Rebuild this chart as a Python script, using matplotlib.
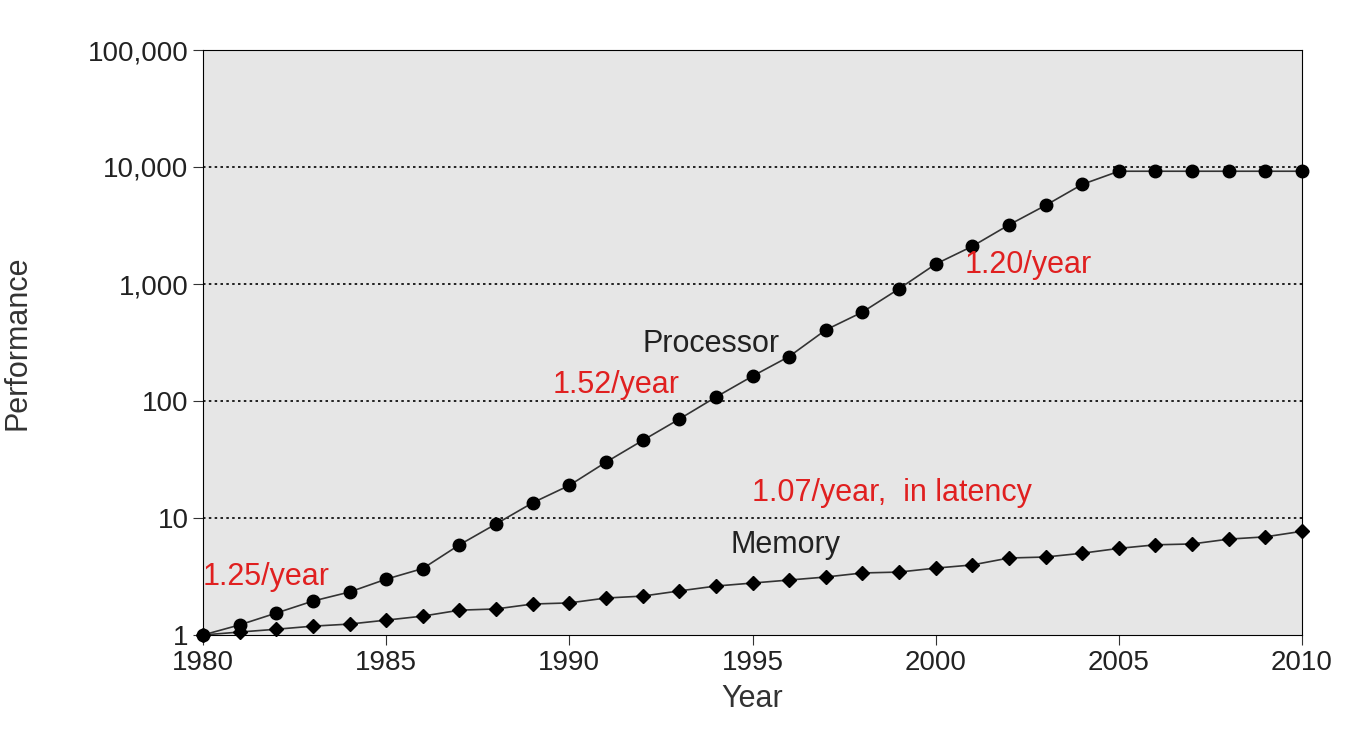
import matplotlib
matplotlib.use("Agg")
import matplotlib.pyplot as plt
from matplotlib.ticker import FixedLocator, NullLocator

years = list(range(1980, 2011))
processor = [1, 1.22, 1.54, 1.95, 2.33, 3.0, 3.7, 5.9, 8.9, 13.5, 19, 30, 46, 70,
             108, 163, 240, 405, 575, 910, 1480, 2100, 3200, 4700, 7100, 9200,
             9200, 9200, 9200, 9200, 9200]
memory = [1, 1.06, 1.12, 1.19, 1.24, 1.34, 1.45, 1.63, 1.67, 1.84, 1.88, 2.07, 2.15,
          2.38, 2.62, 2.78, 2.95, 3.13, 3.39, 3.45, 3.73, 3.97, 4.55, 4.64, 5.0,
          5.5, 5.9, 6.0, 6.6, 6.9, 7.7]
yticks = [1, 10, 100, 1000, 10000, 100000]
ytick_labels = ["1", "10", "100", "1,000", "10,000", "100,000"]

plt.rcParams["font.family"] = ["Liberation Sans", "DejaVu Sans"]
fig = plt.figure(figsize=(13.62, 7.54), dpi=100)
ax = fig.add_axes([203 / 1362, 1 - 635 / 754, 1099 / 1362, 585 / 754])
ax.set_facecolor("#e6e6e6")

for v in yticks[1:-1]:
    ax.axhline(v, color="black", linestyle=(0, (1.5, 2)), linewidth=1.2, zorder=1)

ax.plot(years, processor, color="#333333", linewidth=1.2, marker="o",
        markersize=9, markerfacecolor="black", markeredgecolor="black", zorder=3,
        clip_on=False)
ax.plot(years, memory, color="#333333", linewidth=1.2, marker="D",
        markersize=7.5, markerfacecolor="black", markeredgecolor="black", zorder=3,
        clip_on=False)

ax.set_yscale("log")
ax.set_xlim(1980, 2010)
ax.set_ylim(1, 100000)
ax.yaxis.set_major_locator(FixedLocator(yticks))
ax.yaxis.set_minor_locator(NullLocator())
ax.set_yticklabels(ytick_labels)
ax.set_xticks(range(1980, 2011, 5))
ax.tick_params(labelsize=20, direction="out", length=7, color="#333333",
               labelcolor="#222222")
ax.set_xlabel("Year", fontsize=22, color="#333333", labelpad=6)
ax.set_ylabel("Performance", fontsize=22, color="#333333", labelpad=40)

ax.text(1995.75, 307, "Processor", fontsize=22, ha="right", va="center", color="#222222")
ax.text(1997.4, 5.9, "Memory", fontsize=22, ha="right", va="center", color="#222222")
red = "#e02020"
ax.text(1980, 3.13, "1.25/year", fontsize=22, color=red, va="center")
ax.text(1989.55, 137, "1.52/year", fontsize=22, color=red, va="center")
ax.text(2000.8, 1455, "1.20/year", fontsize=22, color=red, va="center")
ax.text(1995.0, 16.3, "1.07/year,  in latency", fontsize=22, color=red, va="center")

fig.savefig("out.png", dpi=100)
